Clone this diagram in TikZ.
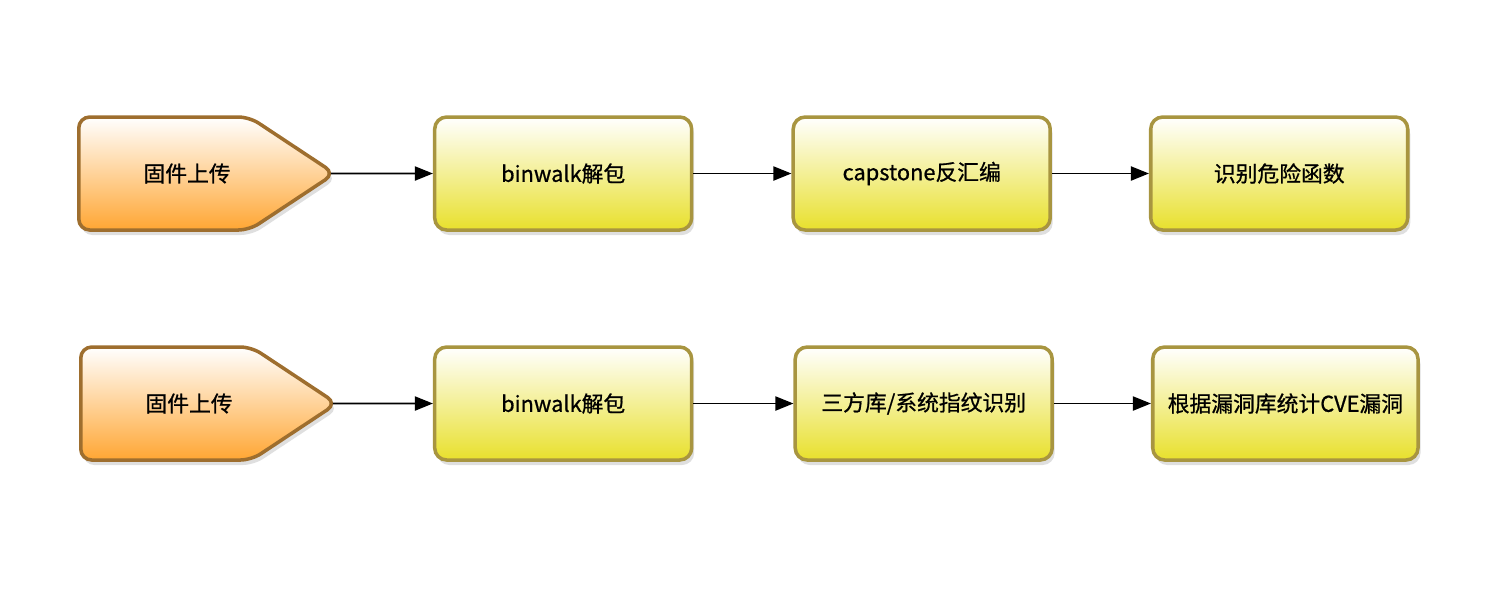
\documentclass[tikz,border=0pt]{standalone}
\usepackage{fontspec}
\setmainfont{Noto Sans CJK SC}[FakeBold=0.8]
\usetikzlibrary{arrows.meta,positioning,shapes.symbols,shadows}

\definecolor{upline}{HTML}{9E6E2E}
\definecolor{upfill}{HTML}{FFA633}
\definecolor{boxline}{HTML}{A89540}
\definecolor{boxfill}{HTML}{E8E02C}

\tikzset{
  upload/.style={signal, signal to=east, signal pointer angle=67,
    draw=upline, line width=2pt, rounded corners=0.22cm,
    top color=white, bottom color=upfill,
    minimum width=5.12cm, minimum height=2.26cm, anchor=west,
    drop shadow={opacity=0.25, shadow xshift=0.05cm, shadow yshift=-0.1cm}},
  stage/.style={rectangle, draw=boxline, line width=2pt, rounded corners=0.24cm,
    top color=white, bottom color=boxfill,
    minimum width=5.14cm, minimum height=2.26cm, inner xsep=0.3cm,
    drop shadow={opacity=0.25, shadow xshift=0.05cm, shadow yshift=-0.1cm}}
}

\begin{document}
\begin{tikzpicture}[node distance=1.9cm, font=\fontsize{12.4}{15}\selectfont,
  >={Triangle[length=0.36cm,width=0.28cm]}]
   \useasboundingbox (0,0) rectangle (30.12,-12.08);
   % first row
   \node[upload] (up_1) at (1.54,-3.47) {\hspace*{0.92cm}固件上传};
   \node[stage] (unpack_1) [right=of up_1] {binwalk解包};
   \node[stage] (disasm_1) [right=1.96cm of unpack_1] {capstone反汇编};
   \node[stage] (danger_1) [right=1.94cm of disasm_1] {识别危险函数};
   % second row
   \node[upload] (up_2) at (1.58,-8.07) {\hspace*{0.92cm}固件上传};
   \node[stage] (unpack_2) [right=1.86cm of up_2] {binwalk解包};
   \node[stage] (finger_2) [right=2.0cm of unpack_2] {三方库/系统指纹识别};
   \node[stage] (cve_2) [right=1.94cm of finger_2] {根据漏洞库统计CVE漏洞};
    \path[->, line width=1.1pt]
    (up_1) edge [shorten <=-0.14cm] (unpack_1)
    (unpack_1) edge (disasm_1)
    (disasm_1) edge (danger_1)
    (up_2) edge [shorten <=-0.14cm] (unpack_2)
    (unpack_2) edge (finger_2)
    (finger_2) edge (cve_2);
\end{tikzpicture}
\end{document}
